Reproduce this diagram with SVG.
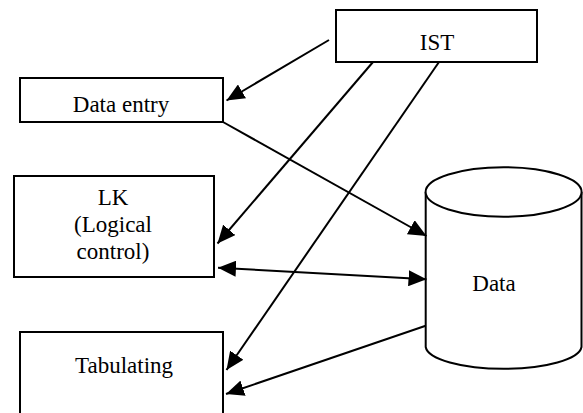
<svg xmlns="http://www.w3.org/2000/svg" width="583" height="413" viewBox="0 0 583 413">
<defs>
<style>
.box{fill:#fff;stroke:#000;stroke-width:2}
.lbl{font-family:"Liberation Serif","Times New Roman","DejaVu Serif",serif;font-size:23px;fill:#000;text-anchor:middle}
.con{stroke:#000;stroke-width:2;fill:none}
</style>
<marker id="ah" markerUnits="userSpaceOnUse" markerWidth="19" markerHeight="16" refX="18" refY="8" orient="auto-start-reverse">
<path d="M0,0 L18,8 L0,16 z" fill="#000"/>
</marker>
</defs>
<rect width="583" height="413" fill="#fff"/>
<g id="ist">
<rect class="box" x="336" y="10" width="201" height="52"/>
<text class="lbl" x="437" y="50">IST</text>
</g>
<g id="data-entry">
<rect class="box" x="20" y="78" width="203" height="44"/>
<text class="lbl" x="121" y="112">Data entry</text>
</g>
<g id="lk">
<rect class="box" x="14" y="176" width="200" height="101"/>
<text class="lbl" x="113" y="205">LK</text>
<text class="lbl" x="113" y="232">(Logical</text>
<text class="lbl" x="113" y="259">control)</text>
</g>
<g id="tabulating">
<rect class="box" x="20" y="332" width="203" height="100"/>
<text class="lbl" x="124" y="373">Tabulating</text>
</g>
<g id="data">
<path class="box" d="M425.7,192 L425.7,347 A78,23 0 0 0 581.5,347 L581.5,192"/>
<ellipse class="box" cx="503.6" cy="192" rx="78" ry="24.7"/>
<text class="lbl" x="494" y="291">Data</text>
</g>
<g id="connectors">
<line class="con" x1="329" y1="40" x2="226.5" y2="100.5" marker-end="url(#ah)"/>
<line class="con" x1="373" y1="62" x2="217.5" y2="243.5" marker-end="url(#ah)"/>
<line class="con" x1="439" y1="62" x2="226.5" y2="370" marker-end="url(#ah)"/>
<line class="con" x1="223" y1="122" x2="426.5" y2="236" marker-end="url(#ah)"/>
<line class="con" x1="218" y1="267.7" x2="426.5" y2="279.3" marker-start="url(#ah)" marker-end="url(#ah)"/>
<line class="con" x1="425.7" y1="325.7" x2="226" y2="394" marker-end="url(#ah)"/>
</g>
</svg>
